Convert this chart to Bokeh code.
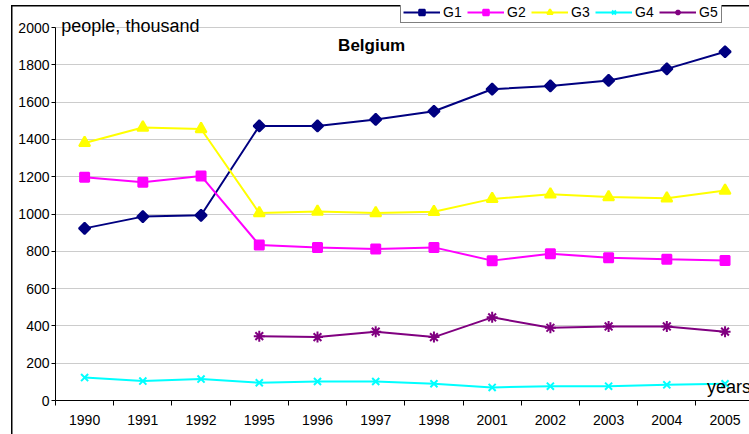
from bokeh.plotting import figure
from bokeh.models import Range1d, FixedTicker, Legend, Label, ColumnDataSource
from bokeh.embed import file_html
from bokeh.resources import INLINE
import numpy as np

years = ["1990", "1991", "1992", "1995", "1996", "1997", "1998", "2001", "2002", "2003", "2004", "2005"]
g1 = [923, 986, 993, 1472, 1472, 1507, 1551, 1669, 1687, 1716, 1778, 1870]
g2 = [1197, 1170, 1204, 834, 820, 812, 821, 750, 787, 766, 757, 751]
g3 = [1381, 1464, 1456, 1005, 1013, 1005, 1012, 1081, 1106, 1091, 1084, 1126]
g4 = [123, 104, 115, 95, 102, 102, 90, 70, 77, 77, 84, 90]
g5 = [None, None, None, 345, 340, 369, 340, 446, 390, 397, 397, 369]
y_ticks = [0, 200, 400, 600, 800, 1000, 1200, 1400, 1600, 1800, 2000]

FONT = "Liberation Sans"
xpos = [i + 0.5 for i in range(len(years))]

p = figure(width=749, height=434, output_backend="svg", toolbar_location=None,
           x_range=Range1d(0, 11.92), y_range=Range1d(0, 2118),
           min_border_left=55, min_border_right=0, min_border_top=5, min_border_bottom=34,
           background_fill_alpha=0, border_fill_alpha=0)
p.outline_line_color = None
p.styles = {
    "background": ("linear-gradient(#000, #000) 11px 5px / 1.5px 100% no-repeat, "
                   "linear-gradient(#000, #000) 11px 5px / 100% 1.5px no-repeat, #fff"),
}

# axes
p.xaxis.ticker = FixedTicker(ticks=xpos, minor_ticks=list(range(len(years) + 1)))
p.xaxis.major_label_overrides = {x: y for x, y in zip(xpos, years)}
p.xaxis.major_tick_out = 0
p.xaxis.major_tick_in = 0
p.xaxis.minor_tick_out = 5
p.xaxis.minor_tick_in = 0
p.xaxis.minor_tick_line_color = "black"
p.xaxis.major_label_standoff = 9
p.yaxis.ticker = FixedTicker(ticks=y_ticks)
p.yaxis.bounds = (0, 2000)
p.yaxis.minor_tick_line_color = None
p.yaxis.major_tick_out = 4
p.yaxis.major_tick_in = 0
p.yaxis.major_label_standoff = 2
for ax in (p.xaxis, p.yaxis):
    ax.axis_line_color = "black"
    ax.axis_line_width = 1
    ax.major_tick_line_color = "black"
    ax.major_label_text_font = FONT
    ax.major_label_text_font_size = "14px"
    ax.major_label_text_color = "black"
p.xgrid.grid_line_color = None
p.ygrid.ticker = FixedTicker(ticks=y_ticks)
p.ygrid.grid_line_color = "#cccccc"
p.ygrid.grid_line_width = 1

src = ColumnDataSource(dict(x=xpos, g1=g1, g2=g2, g3=g3, g4=g4,
                            g5=[np.nan if v is None else v for v in g5]))

series = [
    ("G1", "g1", "#000080", "square", 8, 0.785398),
    ("G2", "g2", "#FF00FF", "square", 9, 0.0),
    ("G3", "g3", "#FFFF00", "triangle", 11, 0.0),
    ("G4", "g4", "#00FFFF", "x", 10, 0.0),
    ("G5", "g5", "#800080", "asterisk", 11, 0.0),
]
items = []
for name, col, color, marker, size, ang in series:
    r1 = p.line("x", col, source=src, line_color=color, line_width=2)
    r2 = p.scatter("x", col, source=src, marker=marker, size=size, angle=ang,
                   line_color=color, fill_color=color, line_width=2)
    items.append((name, [r1, r2]))

legend = Legend(items=items, orientation="horizontal", location=(345, 377),
                glyph_width=37, glyph_height=14, label_standoff=3, spacing=4,
                padding=2, margin=0, label_text_font=FONT, label_text_font_size="14px",
                label_text_color="black",
                label_height=14, border_line_color="black", border_line_width=1,
                background_fill_color="white", background_fill_alpha=1)
p.add_layout(legend, "center")

p.add_layout(Label(x=5.43, y=1906, text="Belgium", text_font=FONT, text_font_size="17px",
                   text_color="black",
                   text_font_style="bold", text_align="center", text_baseline="middle"))
p.add_layout(Label(x=0.1, y=2008, text="people, thousand", text_font=FONT,
                   text_color="black",
                   text_font_size="18px", text_baseline="alphabetic"))
p.add_layout(Label(x=11.19, y=75, text="years", text_font=FONT, text_color="black",
                   text_font_size="18px", text_baseline="alphabetic"))

open("out.html", "w").write(file_html(p, INLINE))
